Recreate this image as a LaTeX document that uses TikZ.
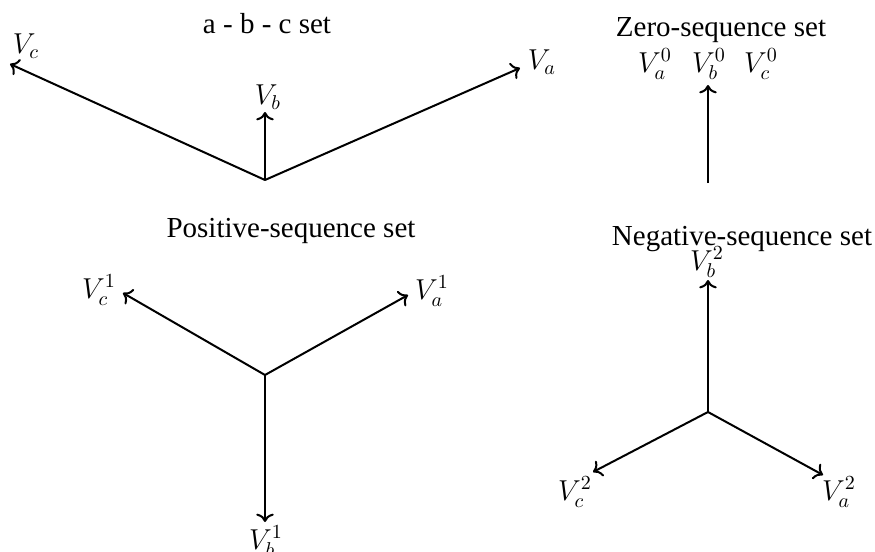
\documentclass[tikz,border=0pt]{standalone}
\usepackage{fontspec}
\setmainfont{Liberation Serif}
\usetikzlibrary{arrows.meta}
\begin{document}
\begin{tikzpicture}[x=0.5pt,y=-0.5pt,
  vec/.style={-{To[scale=1.1]}, line width=1pt},
  lbl/.style={inner sep=0pt, font=\fontsize{14.5}{17}\selectfont},
  ttl/.style={inner sep=0pt, anchor=base, font=\fontsize{14.5}{17}\selectfont}]
\useasboundingbox (0,0) rectangle (875,552);
% a-b-c set
\node[ttl] (t1) at (267,33) {a - b - c set};
\coordinate (o1) at (265,180);
\coordinate (a1) at (520,68);
\coordinate (b1) at (265,112);
\coordinate (c1) at (10,64);
\draw[vec] (o1) -- (a1);
\draw[vec] (o1) -- (b1);
\draw[vec] (o1) -- (c1);
\node[lbl] (la1) at (542,62) {$V_a$};
\node[lbl] (lb1) at (268,97) {$V_b$};
\node[lbl] (lc1) at (26,46) {$V_c$};
% zero-sequence
\node[ttl] (t0) at (721,36) {Zero-sequence set};
\coordinate (o0) at (708,183);
\coordinate (b0) at (708,85);
\draw[vec] (o0) -- (b0);
\node[lbl] (la0) at (655,64) {$V_a^0$};
\node[lbl] (lb0) at (709,64) {$V_b^0$};
\node[lbl] (lc0) at (761,64) {$V_c^0$};
% positive-sequence
\node[ttl] (tp) at (291,237) {Positive-sequence set};
\coordinate (op) at (265,375);
\coordinate (ap) at (408,295);
\coordinate (bp) at (265,522);
\coordinate (cp) at (123,293);
\draw[vec] (op) -- (ap);
\draw[vec] (op) -- (bp);
\draw[vec] (op) -- (cp);
\node[lbl] (lap) at (432,291) {$V_a^1$};
\node[lbl] (lbp) at (266,541) {$V_b^1$};
\node[lbl] (lcp) at (99,290) {$V_c^1$};
% negative-sequence
\node[ttl] (tn) at (742,245) {Negative-sequence set};
\coordinate (on) at (708,412);
\coordinate (an) at (823,475);
\coordinate (bn) at (708,280);
\coordinate (cn) at (593,472);
\draw[vec] (on) -- (an);
\draw[vec] (on) -- (bn);
\draw[vec] (on) -- (cn);
\node[lbl] (lan) at (839,492) {$V_a^2$};
\node[lbl] (lbn) at (707,262) {$V_b^2$};
\node[lbl] (lcn) at (575,492) {$V_c^2$};
\end{tikzpicture}
\end{document}
